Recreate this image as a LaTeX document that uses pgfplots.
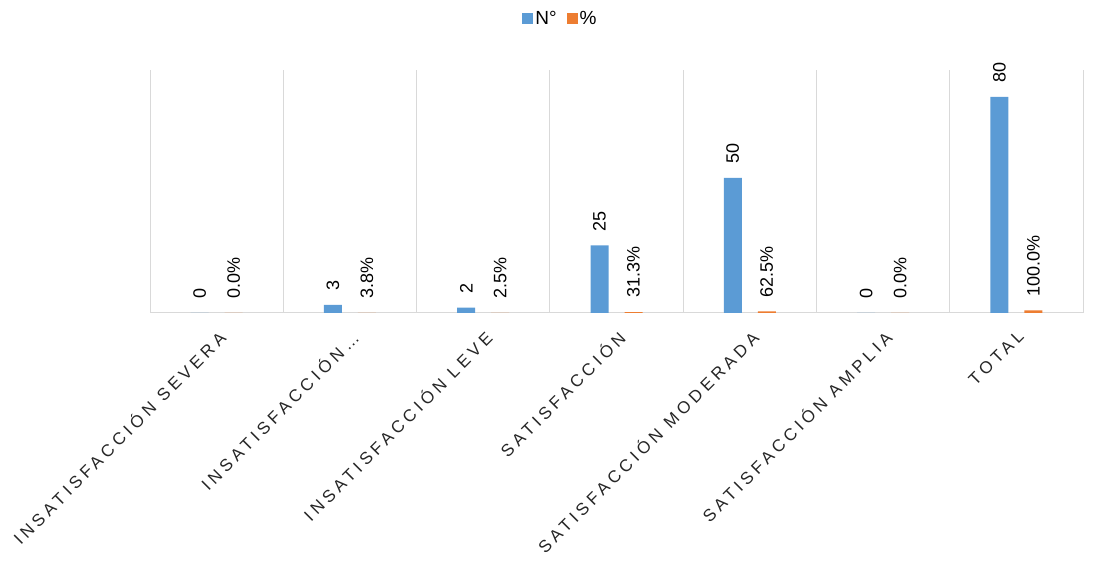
\documentclass[border=0pt]{standalone}
\usepackage{pgfplots}
\pgfplotsset{compat=1.18}
\usepackage{fontspec}
\setmainfont{Liberation Sans}
\newfontfamily\tickfont[LetterSpace=24]{Liberation Sans}
\definecolor{cblue}{HTML}{5B9BD5}
\definecolor{corange}{HTML}{ED7D31}
\definecolor{cgrid}{HTML}{D9D9D9}
\pgfplotstableread{
x n
0 0
1 3
2 2
3 25
4 50
5 0
6 80
}\tblN
\pgfplotstableread{
x f p
0 0 0.0
1 0.038 3.8
2 0.025 2.5
3 0.313 31.3
4 0.625 62.5
5 0 0.0
6 1 100.0
}\tblP
\begin{document}
\begin{tikzpicture}[x=1bp,y=1bp]
\path[use as bounding box] (0,0) rectangle (1105,575);
\begin{axis}[
  at={(150bp,262bp)}, anchor=south west,
  scale only axis, width=933bp, height=243bp,
  xmin=-0.5, xmax=6.5, ymin=0, ymax=90,
  axis x line*=bottom, axis y line=none,
  x axis line style={cgrid, line width=1bp},
  xtick={0,...,6},
  xticklabels={INSATISFACCIÓN SEVERA, INSATISFACCIÓN…, INSATISFACCIÓN LEVE, SATISFACCIÓN, SATISFACCIÓN MODERADA, SATISFACCIÓN AMPLIA, TOTAL},
  major tick length=0pt, minor tick length=0pt,
  minor xtick={-0.5,0.5,...,6.5},
  xminorgrids, minor grid style={cgrid, line width=1bp},
  ytick=\empty,
  xticklabel style={rotate=45, anchor=north east, inner sep=0pt, text=black!85, font=\tickfont\fontsize{17bp}{17bp}\selectfont},
  xticklabel shift=16bp,
  ybar, bar width=18bp,
  nodes near coords,
  every node near coord/.append style={rotate=90, anchor=west, inner xsep=14bp, font=\fontsize{18bp}{18bp}\selectfont, text=black},
  /pgf/number format/assume math mode=true,
  legend style={at={(0.5,1)}, anchor=south, xshift=-56bp, yshift=40bp, draw=none, legend columns=-1, font=\fontsize{19bp}{19bp}\selectfont, /tikz/every even column/.append style={column sep=8bp}},
  legend image code/.code={\fill[#1] (0bp,-5.5bp) rectangle (11bp,5.5bp);},
]
\addplot[fill=cblue, draw=none, bar shift=-17bp] table[x=x, y=n] {\tblN};
\addlegendentry{N°}
\addplot[fill=corange, draw=none, bar shift=17bp, point meta=explicit,
  nodes near coords={\pgfmathprintnumber[fixed, precision=1, fixed zerofill]{\pgfplotspointmeta}\%}] table[x=x, y=f, meta=p] {\tblP};
\addlegendentry{\%}
\end{axis}
\end{tikzpicture}
\end{document}
